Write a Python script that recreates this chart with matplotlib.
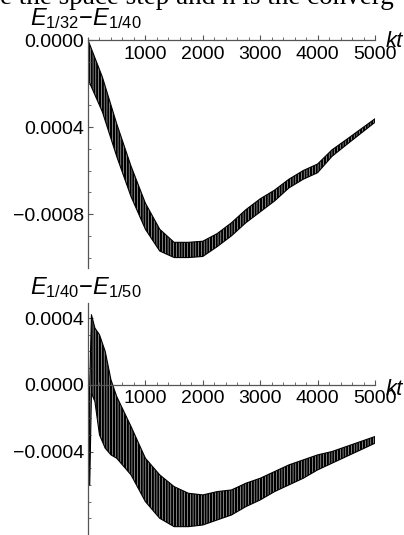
import matplotlib
matplotlib.use('Agg')
import matplotlib.pyplot as plt
from matplotlib.ticker import MultipleLocator, FixedLocator, FixedFormatter

plt.rcParams['font.family'] = ['Liberation Sans', 'DejaVu Sans']
plt.rcParams['mathtext.fontset'] = 'custom'
plt.rcParams['mathtext.it'] = 'Liberation Sans:italic'
plt.rcParams['mathtext.rm'] = 'Liberation Sans'
plt.rcParams['hatch.color'] = 'white'
plt.rcParams['hatch.linewidth'] = 0.35

# E_{1/32} - E_{1/40}: envelope of the oscillating curve
kt_top = [0, 250, 500, 750, 1000, 1250, 1500, 1750, 2000, 2250, 2500,
          2750, 3000, 3250, 3500, 3750, 4000, 4250, 4500, 4750, 5000]
top_upper = [0.0, -0.00017, -0.000385, -0.00058, -0.00075, -0.00087, -0.00093,
             -0.00093, -0.000925, -0.00089, -0.00084, -0.00078, -0.00073,
             -0.00069, -0.00064, -0.0006, -0.00057, -0.000505, -0.000458,
             -0.00041, -0.000362]
top_lower = [-0.00018, -0.00033, -0.000535, -0.00072, -0.00087, -0.00097,
             -0.001, -0.001, -0.000995, -0.00095, -0.0009, -0.00084, -0.00079,
             -0.00074, -0.00068, -0.00064, -0.00061, -0.000535, -0.000482,
             -0.00043, -0.000378]

# E_{1/40} - E_{1/50}
kt_bot = [0, 30, 60, 120, 200, 300, 400, 500, 750, 1000, 1250, 1500, 1750,
          2000, 2250, 2500, 2750, 3000, 3250, 3500, 3750, 4000, 4250, 4500,
          4750, 5000]
bot_upper = [0.0, 0.0, 0.00042, 0.00034, 0.0003, 0.0002, 0.00003, -0.00007,
             -0.00025, -0.00044, -0.00054, -0.00061, -0.00065, -0.00066,
             -0.00064, -0.00063, -0.00059, -0.00056, -0.00052, -0.00048,
             -0.00045, -0.00042, -0.0004, -0.00037, -0.00034, -0.00031]
bot_lower = [-0.0006, -0.0006, -0.00005, -0.0001, -0.0003, -0.00038, -0.00042,
             -0.00044, -0.00054, -0.0007, -0.0008, -0.00085, -0.00085,
             -0.00084, -0.00081, -0.00078, -0.00073, -0.00069, -0.00064,
             -0.0006, -0.00056, -0.00051, -0.00047, -0.00043, -0.00039,
             -0.00035]

x_ticks = [1000, 2000, 3000, 4000, 5000]
top_yticks = [0.0, -0.0004, -0.0008]
top_ylabels = ['0.0000', '0.0004', '\u22120.0008']
bot_yticks = [0.0004, 0.0, -0.0004]
bot_ylabels = ['0.0004', '0.0000', '\u22120.0004']

W, H = 404, 535
fig = plt.figure(figsize=(W / 100, H / 100), dpi=100)

ax1 = fig.add_axes([88 / W, 1 - 268 / H, 287 / W, 230 / H])
ax2 = fig.add_axes([88 / W, 0.0, 287 / W, 232 / H])


def style(ax, yticks, ylabels, ylim):
    ax.set_xlim(0, 5000)
    ax.set_ylim(*ylim)
    for s in ['top', 'right']:
        ax.spines[s].set_visible(False)
    ax.spines['bottom'].set_position(('data', 0))
    for s in ['left', 'bottom']:
        ax.spines[s].set_color('#555555')
        ax.spines[s].set_linewidth(0.9)
    ax.xaxis.set_major_locator(FixedLocator(x_ticks))
    ax.xaxis.set_minor_locator(MultipleLocator(200))
    ax.yaxis.set_major_locator(FixedLocator(yticks))
    ax.yaxis.set_major_formatter(FixedFormatter(ylabels))
    ax.yaxis.set_minor_locator(MultipleLocator(0.0001))
    ax.tick_params(axis='both', which='major', direction='in', length=3.5,
                   width=0.8, color='#555555', labelsize=14, pad=3)
    ax.tick_params(axis='x', which='major', pad=4)
    ax.tick_params(axis='both', which='minor', direction='in', length=2,
                   width=0.6, color='#555555')
    ax.patch.set_alpha(0)


def band(ax, kt, lo, up):
    ax.fill_between(kt, lo, up, facecolor='black', edgecolor='white',
                    linewidth=0, hatch='|' * 6, zorder=1)
    ax.plot(kt, up, color='black', lw=0.8, zorder=2)
    ax.plot(kt, lo, color='black', lw=0.8, zorder=2)


band(ax1, kt_top, top_lower, top_upper)
band(ax2, kt_bot, bot_lower, bot_upper)
style(ax1, top_yticks, top_ylabels, (-0.001048, 0.0000092))
style(ax2, bot_yticks, bot_ylabels, (-0.0009, 0.00049))

fig.text(30 / W, 1 - 25 / H, r'$\mathit{E_{1/32}{-}E_{1/40}}$', fontsize=17,
         ha='left', va='baseline')
fig.text(30 / W, 1 - 294 / H, r'$\mathit{E_{1/40}{-}E_{1/50}}$', fontsize=17,
         ha='left', va='baseline')
fig.text(386 / W, 1 - 47 / H, 'kt', fontsize=16, style='italic',
         ha='left', va='baseline')
fig.text(386 / W, 1 - 395 / H, 'kt', fontsize=16, style='italic',
         ha='left', va='baseline')

# cut-off line of text from the page above the figure
fig.text(0.0, 1 - 4 / H, 'e the space step and h is the converg',
         family=['Liberation Serif', 'DejaVu Serif'], fontsize=19.5,
         ha='left', va='baseline')

fig.savefig('out.png', dpi=100)
